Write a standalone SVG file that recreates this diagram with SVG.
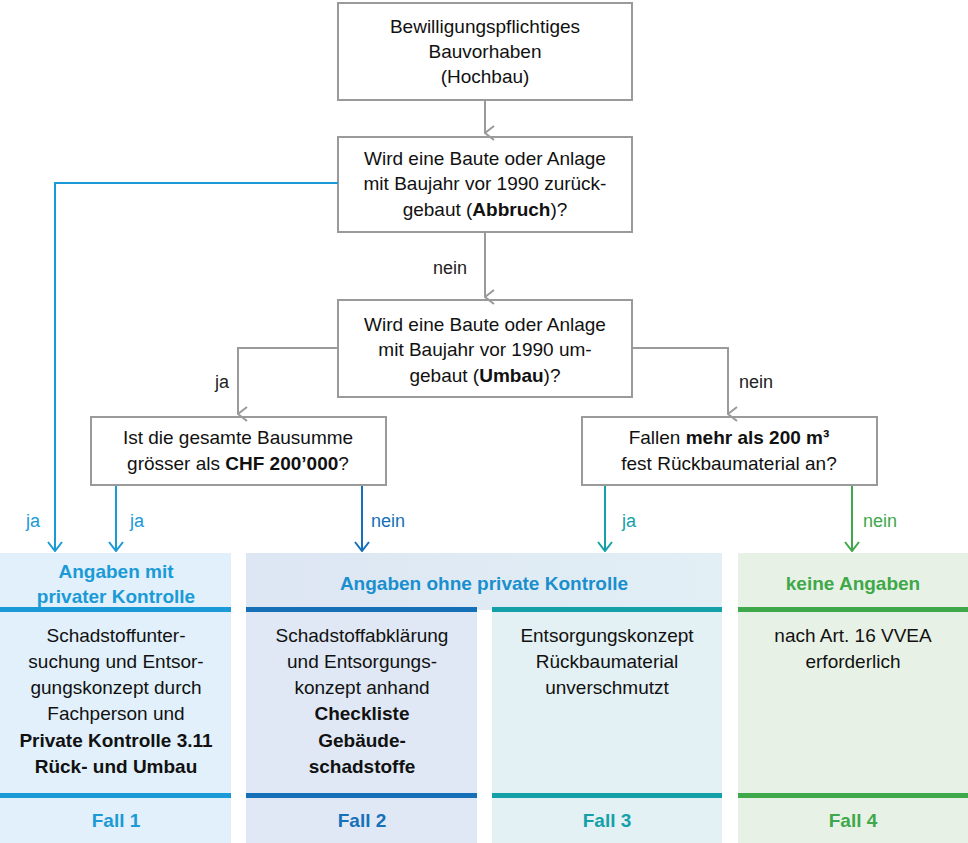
<svg xmlns="http://www.w3.org/2000/svg" width="968" height="843" viewBox="0 0 968 843">
<style>
text{font-family:"Liberation Sans",Arial,sans-serif;text-anchor:middle}
.n{font-size:19px;fill:#111}
.b{font-weight:bold}
.box{fill:#fff;stroke:#9a9a9a;stroke-width:2}
.c{fill:none;stroke-width:2}
.lb{font-size:18px}
</style>
<defs>
<marker id="ag" markerWidth="16" markerHeight="12" refX="8" refY="11" orient="auto" markerUnits="userSpaceOnUse" viewBox="0 0 16 12"><path d="M1,2 L8,11 L15,2" fill="none" stroke="#9a9a9a" stroke-width="2"/></marker>
<marker id="ab" markerWidth="16" markerHeight="12" refX="8" refY="11" markerUnits="userSpaceOnUse" viewBox="0 0 16 12"><path d="M1,2 L8,11 L15,2" fill="none" stroke="#1a9ad6" stroke-width="2"/></marker>
<marker id="ad" markerWidth="16" markerHeight="12" refX="8" refY="11" markerUnits="userSpaceOnUse" viewBox="0 0 16 12"><path d="M1,2 L8,11 L15,2" fill="none" stroke="#1670b8" stroke-width="2"/></marker>
<marker id="at" markerWidth="16" markerHeight="12" refX="8" refY="11" markerUnits="userSpaceOnUse" viewBox="0 0 16 12"><path d="M1,2 L8,11 L15,2" fill="none" stroke="#13a0a8" stroke-width="2"/></marker>
<marker id="agr" markerWidth="16" markerHeight="12" refX="8" refY="11" markerUnits="userSpaceOnUse" viewBox="0 0 16 12"><path d="M1,2 L8,11 L15,2" fill="none" stroke="#3ea84a" stroke-width="2"/></marker>
<linearGradient id="hg" x1="0" x2="1"><stop offset="0" stop-color="#dde6f3"/><stop offset="1" stop-color="#e2eff5"/></linearGradient>
</defs>
<rect width="968" height="843" fill="#fff"/>

<g id="fall1">
<rect x="0" y="553" width="231" height="290" fill="#e1f0fb"/>
<rect x="0" y="607" width="231" height="5" fill="#1a9ad6"/>
<rect x="0" y="793" width="231" height="5" fill="#1a9ad6"/>
<text x="116" y="578" class="b" font-size="19" fill="#1a9ad6">Angaben mit</text>
<text x="116" y="603" class="b" font-size="19" fill="#1a9ad6">privater Kontrolle</text>
<text class="n" x="116" y="642">Schadstoffunter-</text>
<text class="n" x="116" y="668">suchung und Entsor-</text>
<text class="n" x="116" y="694">gungskonzept durch</text>
<text class="n" x="116" y="720">Fachperson und</text>
<text class="n b" x="116" y="747">Private Kontrolle 3.11</text>
<text class="n b" x="116" y="773">Rück- und Umbau</text>
<text x="116" y="827" class="b" font-size="19" fill="#1a9ad6">Fall 1</text>
</g>

<g id="header23">
<rect x="246" y="553" width="476" height="57" fill="url(#hg)"/>
<text x="484" y="590" class="b" font-size="19" fill="#1a8fce">Angaben ohne private Kontrolle</text>
</g>
<g id="fall2">
<rect x="246" y="610" width="231" height="233" fill="#dfe8f4"/>
<rect x="246" y="607" width="231" height="5" fill="#1670b8"/>
<rect x="246" y="793" width="231" height="5" fill="#1670b8"/>
<text class="n" x="362" y="642">Schadstoffabklärung</text>
<text class="n" x="362" y="668">und Entsorgungs-</text>
<text class="n" x="362" y="694">konzept anhand</text>
<text class="n b" x="362" y="720">Checkliste</text>
<text class="n b" x="362" y="747">Gebäude-</text>
<text class="n b" x="362" y="773">schadstoffe</text>
<text x="362" y="827" class="b" font-size="19" fill="#1670b8">Fall 2</text>
</g>
<g id="fall3">
<rect x="492" y="610" width="230" height="233" fill="#e3f0f4"/>
<rect x="492" y="607" width="230" height="5" fill="#13a0a8"/>
<rect x="492" y="793" width="230" height="5" fill="#13a0a8"/>
<text class="n" x="607" y="642">Entsorgungskonzept</text>
<text class="n" x="607" y="668">Rückbaumaterial</text>
<text class="n" x="607" y="694">unverschmutzt</text>
<text x="607" y="827" class="b" font-size="19" fill="#13a0a8">Fall 3</text>
</g>
<g id="fall4">
<rect x="738" y="553" width="230" height="290" fill="#e8f1e6"/>
<rect x="738" y="607" width="230" height="5" fill="#3ea84a"/>
<rect x="738" y="793" width="230" height="5" fill="#3ea84a"/>
<text x="853" y="590" class="b" font-size="19" fill="#3ea84a">keine Angaben</text>
<text class="n" x="853" y="642">nach Art. 16 VVEA</text>
<text class="n" x="853" y="668">erforderlich</text>
<text x="853" y="827" class="b" font-size="19" fill="#3ea84a">Fall 4</text>
</g>

<g id="n1"><rect class="box" x="338" y="3" width="294" height="97"/>
<text class="n" x="485" y="33">Bewilligungspflichtiges</text>
<text class="n" x="485" y="58">Bauvorhaben</text>
<text class="n" x="485" y="83">(Hochbau)</text></g>
<g id="n2"><rect class="box" x="338" y="137" width="294" height="95"/>
<text class="n" x="485" y="165">Wird eine Baute oder Anlage</text>
<text class="n" x="485" y="190">mit Baujahr vor 1990 zurück-</text>
<text class="n" x="485" y="216">gebaut (<tspan class="b">Abbruch</tspan>)?</text></g>
<g id="n3"><rect class="box" x="338" y="300" width="294" height="97"/>
<text class="n" x="485" y="331">Wird eine Baute oder Anlage</text>
<text class="n" x="485" y="356">mit Baujahr vor 1990 um-</text>
<text class="n" x="485" y="382">gebaut (<tspan class="b">Umbau</tspan>)?</text></g>
<g id="n4"><rect class="box" x="91" y="417" width="295" height="68"/>
<text class="n" x="238" y="444">Ist die gesamte Bausumme</text>
<text class="n" x="238" y="470">grösser als <tspan class="b">CHF 200’000</tspan>?</text></g>
<g id="n5"><rect class="box" x="582" y="417" width="295" height="68"/>
<text class="n" x="729" y="444">Fallen <tspan class="b">mehr als 200 m³</tspan></text>
<text class="n" x="729" y="470">fest Rückbaumaterial an?</text></g>

<g id="connectors">
<path class="c" stroke="#9a9a9a" d="M485,100 V133" marker-end="url(#ag)"/>
<path class="c" stroke="#9a9a9a" d="M485,232 V297" marker-end="url(#ag)"/>
<path class="c" stroke="#9a9a9a" d="M338,348 H238 V414" marker-end="url(#ag)"/>
<path class="c" stroke="#9a9a9a" d="M632,348 H728 V414" marker-end="url(#ag)"/>
<path class="c" stroke="#1a9ad6" d="M338,183 H55 V551" marker-end="url(#ab)"/>
<path class="c" stroke="#1a9ad6" d="M116,486 V551" marker-end="url(#ab)"/>
<path class="c" stroke="#1670b8" d="M362,486 V551" marker-end="url(#ad)"/>
<path class="c" stroke="#13a0a8" d="M605,486 V551" marker-end="url(#at)"/>
<path class="c" stroke="#3ea84a" d="M852,486 V551" marker-end="url(#agr)"/>
<text class="lb" x="450" y="274" fill="#222">nein</text>
<text class="lb" x="222" y="388" fill="#222">ja</text>
<text class="lb" x="756" y="388" fill="#222">nein</text>
<text class="lb" x="33" y="527" fill="#1a9ad6">ja</text>
<text class="lb" x="137" y="527" fill="#1a9ad6">ja</text>
<text class="lb" x="388" y="527" fill="#1670b8">nein</text>
<text class="lb" x="629" y="527" fill="#13a0a8">ja</text>
<text class="lb" x="880" y="527" fill="#3ea84a">nein</text>
</g>
</svg>
